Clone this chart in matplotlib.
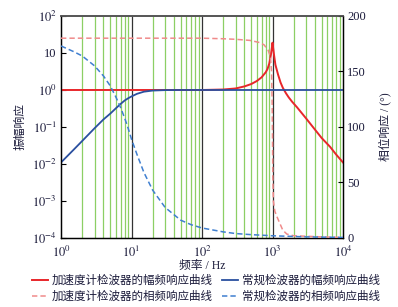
import matplotlib
matplotlib.use("Agg")
import matplotlib.pyplot as plt
from matplotlib.ticker import FixedLocator, FixedFormatter, NullLocator

plt.rcParams['font.family'] = ['Liberation Serif', 'Noto Sans CJK SC']
plt.rcParams['mathtext.fontset'] = 'stix'
plt.rcParams['axes.unicode_minus'] = False

# ---- data ----
conv_amp_freq = [1, 1.5, 2, 3, 4, 5, 6, 7, 8, 9, 10, 12, 15, 20, 30, 50, 100, 1000, 10000]
conv_amp = [0.011, 0.024, 0.042, 0.093, 0.16, 0.23, 0.32, 0.42, 0.52, 0.60, 0.67,
            0.79, 0.90, 0.965, 0.993, 1.0, 1.0, 1.0, 1.0]

conv_phase_freq = [1, 1.5, 2, 3, 4, 5, 6, 7, 8, 9, 10, 12, 15, 20, 30, 50, 70, 100,
                   200, 300, 500, 1000, 3000, 10000]
conv_phase = [173, 168, 164, 155, 146, 137, 127, 117.5, 108, 98.5, 89, 75, 59, 43,
              27.5, 16, 12, 9, 5.5, 4, 3, 2, 1, 0.5]

acc_amp_freq = [1, 10, 100, 200, 300, 400, 500, 600, 700, 800, 850, 900, 950, 980,
                1000, 1020, 1050, 1100, 1200, 1300, 1400, 1550, 1700, 1900, 2230,
                3000, 3740, 5000, 6570, 8000, 10000]
acc_amp = [1, 1, 1, 1.03, 1.1, 1.25, 1.45, 1.75, 2.2, 3.0, 3.7, 5.2, 9, 14,
           19, 14, 9, 4.8, 2.6, 1.6, 1.15, 0.82, 0.63, 0.48, 0.34,
           0.17, 0.1, 0.05, 0.029, 0.018, 0.011]

acc_phase_freq = [1, 100, 200, 300, 480, 665, 760, 870, 935, 970, 990, 1000, 1010,
                  1030, 1080, 1160, 1400, 1600, 2000, 5000, 10000]
acc_phase = [180, 180, 179.5, 179, 178, 176, 174, 169, 163, 150, 120, 90, 55, 33,
             24, 19, 7, 3.5, 2, 1, 0.5]

left_ticks = [1e2, 1e1, 1e0, 1e-1, 1e-2, 1e-3, 1e-4]
left_labels = [r'$10^{2}$', '10', r'$10^{0}$', r'$10^{-1}$', r'$10^{-2}$', r'$10^{-3}$', r'$10^{-4}$']
x_ticks = [1e0, 1e1, 1e2, 1e3, 1e4]
x_labels = [r'$10^{0}$', r'$10^{1}$', r'$10^{2}$', r'$10^{3}$', r'$10^{4}$']
right_ticks = [0, 50, 100, 150, 200]

legend_labels = ['加速度计检波器的幅频响应曲线', '加速度计检波器的相频响应曲线',
                 '常规检波器的幅频响应曲线', '常规检波器的相频响应曲线']

# ---- styling ----
txt = '#1a1a3a'
red = '#e8262a'
pink = '#f08a8a'
dblue = '#2a4f9f'
lblue = '#3f7fd0'
green = '#8ccf64'

fig = plt.figure(figsize=(3.98, 3.07), dpi=100)
ax = fig.add_axes([0.1533, 0.2248, 0.7085, 0.7231])
ax.set_xscale('log')
ax.set_yscale('log')
ax.set_xlim(1, 1e4)
ax.set_ylim(1e-4, 1e2)

minor_pos = [m * 10 ** d for d in range(4) for m in range(2, 10)]
for x in minor_pos:
    ax.axvline(x, color=green, lw=0.9, zorder=0)
for x in [1e1, 1e2, 1e3]:
    ax.axvline(x, color='#333333', lw=0.9, zorder=0.5)

ax2 = ax.twinx()
ax2.set_ylim(0, 200)

l1, = ax.plot(acc_amp_freq, acc_amp, color=red, lw=1.4, zorder=3)
l3, = ax.plot(conv_amp_freq, conv_amp, color=dblue, lw=1.3, zorder=4)
l2, = ax2.plot(acc_phase_freq, acc_phase, color=pink, lw=1.1, ls=(0, (3.5, 2)), zorder=3)
l4, = ax2.plot(conv_phase_freq, conv_phase, color=lblue, lw=1.1, ls=(0, (3.5, 2)), zorder=3)

ax.yaxis.set_major_locator(FixedLocator(left_ticks))
ax.yaxis.set_major_formatter(FixedFormatter(left_labels))
ax.yaxis.set_minor_locator(NullLocator())
ax.xaxis.set_major_locator(FixedLocator(x_ticks))
ax.xaxis.set_major_formatter(FixedFormatter(x_labels))
ax.xaxis.set_minor_locator(NullLocator())
ax2.set_yticks(right_ticks)

ax.tick_params(axis='y', direction='in', length=3.5, width=0.8, labelsize=9, colors='black', labelcolor=txt, pad=3)
ax.tick_params(axis='x', direction='in', length=0, labelsize=9, labelcolor=txt, pad=5)
ax2.tick_params(axis='y', direction='in', length=3.5, width=0.8, labelsize=9, labelcolor=txt, pad=3)

for a in (ax, ax2):
    for s in ['left', 'right', 'bottom']:
        a.spines[s].set_color('black')
        a.spines[s].set_linewidth(0.9)
    a.spines['top'].set_color('#555555')
    a.spines['top'].set_linewidth(1.2)

ax.set_xlabel('频率 / Hz', fontsize=8.5, color=txt, labelpad=0)
ax.set_ylabel('振幅响应', fontsize=8.5, color=txt, labelpad=4)
ax2.set_ylabel('相位响应 / (°)', fontsize=8.5, color=txt, labelpad=9)

fig.legend([l1, l2, l3, l4], legend_labels, loc='center', bbox_to_anchor=(0.518, 0.06),
           ncol=2, frameon=False, fontsize=8.3, handlelength=1.4, handletextpad=0.35,
           columnspacing=0.8, labelspacing=0.35, labelcolor=txt)

fig.savefig('out.png', dpi=100)
